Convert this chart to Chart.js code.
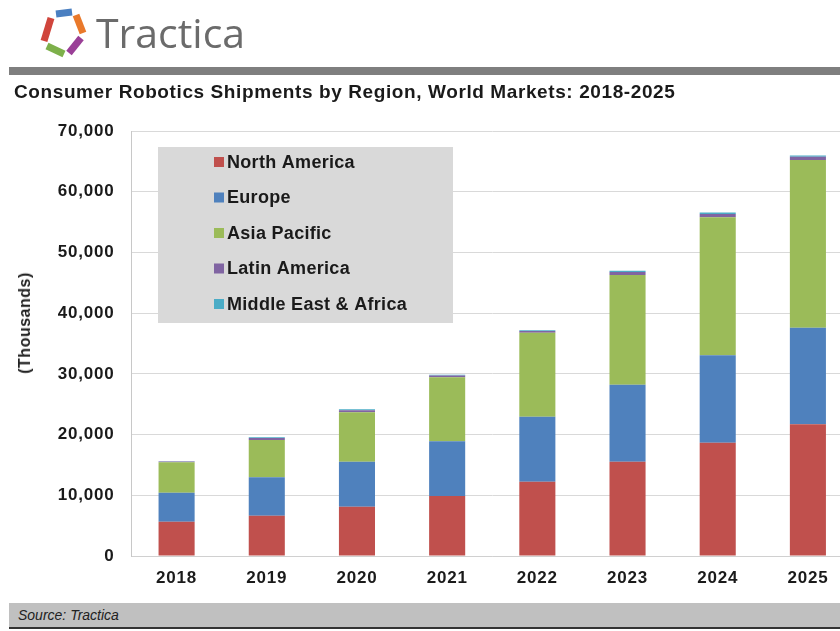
<!DOCTYPE html>
<html>
<head>
<meta charset="utf-8">
<script src="https://cdn.jsdelivr.net/npm/chart.js@4"></script>
<style>
  html, body { margin:0; padding:0; width:840px; height:631px; overflow:hidden; background:#fff; }
  #wrap { position:absolute; left:0; top:0; width:870px; height:631px; }
  canvas { position:absolute; left:0; top:0; }
  .hdrbar { position:absolute; left:9px; top:67px; width:831px; height:8px; background:#7f7f7f; }
  .logo-text { position:absolute; left:96px; top:4px; font-family:"Open Sans", sans-serif; font-size:41px; color:#6b6b6b; }
  .title { position:absolute; left:14px; top:81px; font-family:"Liberation Sans", Arial, sans-serif; font-weight:bold; font-size:19px; letter-spacing:0.6px; color:#1a1a1a; white-space:nowrap; }
  .ytitle { position:absolute; left:25px; top:323px; transform:translate(-50%,-50%) rotate(-90deg); font-family:"Liberation Sans", Arial, sans-serif; font-weight:bold; font-size:16px; letter-spacing:0.5px; color:#222; white-space:nowrap; }
  .footer { position:absolute; left:9px; top:603px; width:831px; height:24px; background:#c0c0c0; border-bottom:2px solid #333; }
  .footer span { position:absolute; left:9px; top:4px; font-family:"Liberation Sans", Arial, sans-serif; font-style:italic; font-size:14px; color:#222; }
</style>
</head>
<body>
<div id="wrap">
  <canvas id="c" width="870" height="631"></canvas>
</div>
<svg style="position:absolute;left:36px;top:6px" width="56" height="54" viewBox="0 0 56 54">
  <g fill="none" stroke-width="7" stroke-linecap="butt">
    <path d="M20 8 L36 6" stroke="#4a7fc1"/>
    <path d="M40 9 L47 27" stroke="#e9792b"/>
    <path d="M45 32 L33 47" stroke="#9a3f97"/>
    <path d="M28 48 L11 40" stroke="#7db04a"/>
    <path d="M8 35 L15 12" stroke="#d0453c"/>
  </g>
</svg>
<div class="logo-text">Tractica</div>
<div class="hdrbar"></div>
<div class="title">Consumer Robotics Shipments by Region, World Markets: 2018-2025</div>
<div class="ytitle">(Thousands)</div>
<div class="footer"><span>Source: Tractica</span></div>
<script>
const years = ["2018","2019","2020","2021","2022","2023","2024","2025"];
const northAmerica = [5650, 6640, 8120, 9880, 12240, 15540, 18670, 21700];
const europe       = [4780, 6330, 7420, 9020, 10710, 12680, 14390, 15910];
const asiaPacific  = [5010, 6140, 8130, 10540, 13840, 18070, 22740, 27630];
const latinAmerica = [110, 310, 350, 280, 280, 500, 530, 500];
const middleEastAfrica = [50, 130, 150, 120, 120, 200, 230, 210];
const seriesNames = ["North America","Europe","Asia Pacific","Latin America","Middle East & Africa"];
const seriesColors = ["#c0504d","#4f81bd","#9bbb59","#8064a2","#4bacc6"];
const yTicks = [0,10000,20000,30000,40000,50000,60000,70000];

const seriesData = [northAmerica, europe, asiaPacific, latinAmerica, middleEastAfrica];

const spacingPlugin = {
  id: 'spacing',
  beforeDraw(chart) { chart.ctx.letterSpacing = '0.8px'; }
};

const legendPlugin = {
  id: 'boxLegend',
  afterDatasetsDraw(chart) {
    const ctx = chart.ctx;
    ctx.save();
    ctx.letterSpacing = '0.3px';
    ctx.fillStyle = '#d9d9d9';
    ctx.fillRect(158, 147, 295, 176);
    ctx.font = 'bold 18px "Liberation Sans", Arial, sans-serif';
    ctx.textBaseline = 'middle';
    chart.data.datasets.forEach((ds, i) => {
      const y = 162 + i * 35.5;
      ctx.fillStyle = ds.backgroundColor;
      ctx.fillRect(214, y - 5, 10, 10);
      ctx.fillStyle = '#1a1a1a';
      ctx.fillText(ds.label, 227, y + 1);
    });
    ctx.restore();
  }
};

new Chart(document.getElementById('c'), {
  type: 'bar',
  data: {
    labels: years,
    datasets: seriesNames.map((n, i) => ({
      label: n,
      data: seriesData[i],
      backgroundColor: seriesColors[i],
      borderWidth: 0,
      categoryPercentage: 1,
      barPercentage: 0.4
    }))
  },
  options: {
    responsive: false,
    animation: false,
    layout: { padding: { left: 0, top: 131, right: 17, bottom: 35 } },
    plugins: { legend: { display: false }, tooltip: { enabled: false }, title: { display: false } },
    scales: {
      x: {
        stacked: true,
        grid: { display: false, drawTicks: false },
        border: { color: '#d0d0d0', width: 1 },
        ticks: { padding: 12, color: '#1a1a1a', font: { family: '"Liberation Sans", Arial, sans-serif', size: 17, weight: 'bold' } },
        afterFit(s) { s.height = 40; }
      },
      y: {
        stacked: true,
        min: 0, max: 70000,
        afterBuildTicks(s) { s.ticks = yTicks.map(v => ({ value: v })); },
        grid: { color: '#d9d9d9', drawTicks: false },
        border: { color: '#c8c8c8', width: 1 },
        ticks: {
          padding: 17, color: '#1a1a1a',
          font: { family: '"Liberation Sans", Arial, sans-serif', size: 17, weight: 'bold' },
          callback: v => v.toLocaleString('en-US')
        },
        afterFit(s) { s.width = 131.5; }
      }
    }
  },
  plugins: [spacingPlugin, legendPlugin]
});
</script>
</body>
</html>
